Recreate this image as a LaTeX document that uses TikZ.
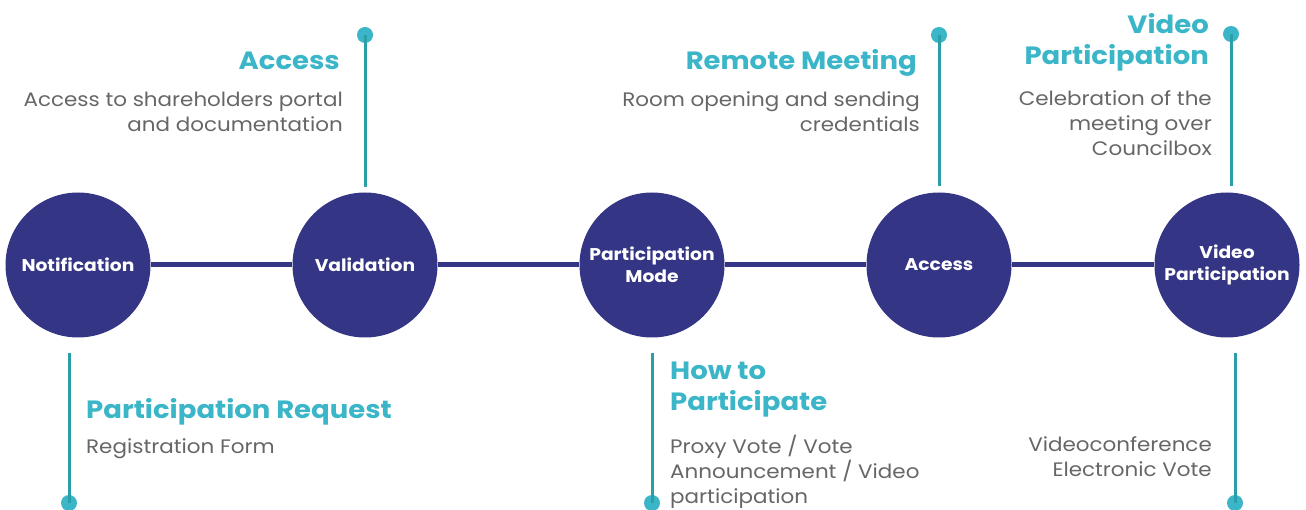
\documentclass[tikz,border=0pt]{standalone}
\usepackage{fontspec}
\setmainfont{Poppins}[FakeStretch=1.1]
\definecolor{navy}{HTML}{343584}
\definecolor{tealline}{HTML}{2A9FA8}
\definecolor{tealdot}{HTML}{3BB5C8}
\definecolor{headc}{HTML}{3BB5C8}
\definecolor{bodyc}{HTML}{666666}
\begin{document}
\begin{tikzpicture}[x=1pt,y=-1pt,
  stage/.style={circle,fill=navy,minimum size=145pt,inner sep=0pt,text=white,
    font=\fontsize{17}{22}\selectfont\bfseries,align=center},
  dot/.style={circle,fill=tealdot,minimum size=16pt,inner sep=0pt},
  stem/.style={draw=tealline,line width=3pt},
  link/.style={draw=navy,line width=5pt},
  head/.style={text=headc,font=\fontsize{25}{31}\selectfont\bfseries,inner sep=0pt},
  body/.style={text=bodyc,font=\fontsize{19.5}{25}\selectfont,inner sep=0pt}]
\useasboundingbox (0,0) rectangle (1306,510);
% stages
\node[stage] (n1) at (78,265) {Notification};
\node[stage] (n2) at (365,265) {Validation};
\node[stage] (n3) at (652,265) {Participation\\Mode};
\node[stage] (n4) at (939,265) {Access};
\node[stage] (n5) at (1227,265) {Video\\Participation};
\draw[link] (n1) -- (n2);
\draw[link] (n2) -- (n3);
\draw[link] (n3) -- (n4);
\draw[link] (n4) -- (n5);
% stems
\node[dot] (d1) at (69,503) {};
\coordinate (s1) at (69,353);
\draw[stem] (s1) -- (d1.center);
\node[dot] (d2) at (365,35) {};
\coordinate (s2) at (365,187);
\draw[stem] (d2.center) -- (s2);
\node[dot] (d3) at (652,503) {};
\coordinate (s3) at (652,353);
\draw[stem] (s3) -- (d3.center);
\node[dot] (d4) at (939,35) {};
\coordinate (s4) at (939,186);
\draw[stem] (d4.center) -- (s4);
\node[dot] (d5) at (1231,34) {};
\coordinate (s5) at (1231,186);
\draw[stem] (d5.center) -- (s5);
\node[dot] (d6) at (1235,503) {};
\coordinate (s6) at (1235,353);
\draw[stem] (s6) -- (d6.center);
% texts
\node[head,anchor=base east] (h2) at (340,70) {Access};
\node[body,anchor=east,align=right] (b2) at (343,111.5) {Access to shareholders portal\\and documentation};
\node[head,anchor=base west] (h1) at (86,418) {Participation Request};
\node[body,anchor=base west] (b1) at (86,453) {Registration Form};
\node[head,anchor=base east] (h4) at (917,70) {Remote Meeting};
\node[body,anchor=east,align=right] (b4) at (920,111.5) {Room opening and sending\\credentials};
\node[head,anchor=east,align=right] (h5) at (1209,42) {Video\\Participation};
\node[body,anchor=east,align=right] (b5) at (1212,123.5) {Celebration of the\\meeting over\\Councilbox};
\node[head,anchor=west,align=left] (h3) at (670,390) {How to\\Participate};
\node[body,anchor=west,align=left] (b3) at (670,471.5) {Proxy Vote / Vote\\Announcement / Video\\participation};
\node[body,anchor=east,align=right] (b6) at (1212,457) {Videoconference\\Electronic Vote};
\end{tikzpicture}
\end{document}
